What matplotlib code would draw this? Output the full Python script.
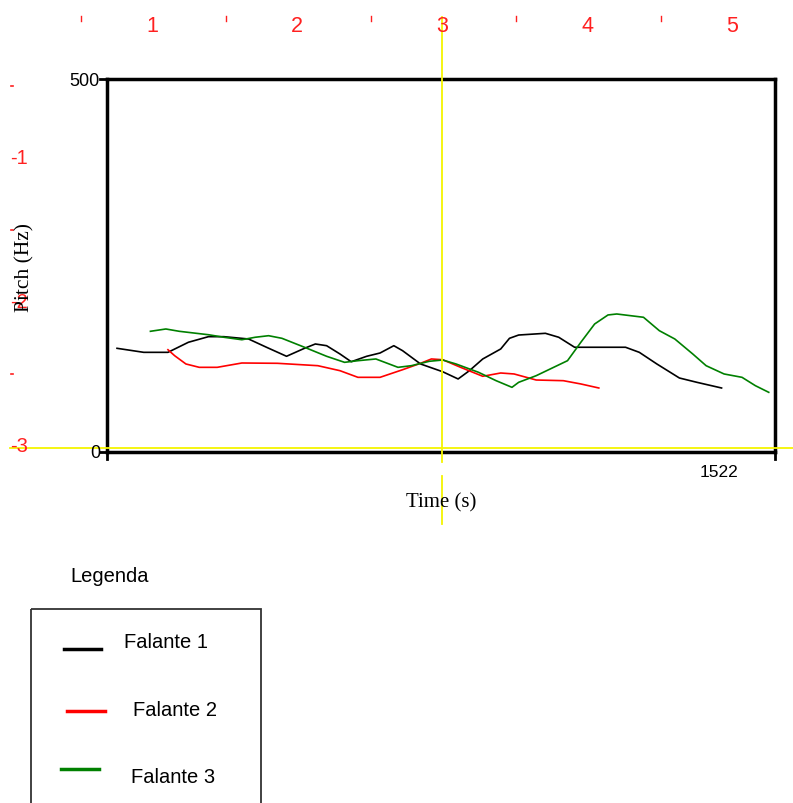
import matplotlib
matplotlib.use("Agg")
import matplotlib.pyplot as plt
from matplotlib.patches import Rectangle

# ---------------- data (time in s, pitch in Hz) ----------------
t1 = [0.024, 0.088, 0.146, 0.195, 0.243, 0.280, 0.339, 0.382, 0.430, 0.473, 0.499, 0.526,
      0.558, 0.585, 0.622, 0.654, 0.687, 0.708, 0.751, 0.804, 0.841, 0.868, 0.900, 0.943,
      0.964, 0.986, 1.050, 1.082, 1.120, 1.242, 1.275, 1.317, 1.371, 1.413, 1.472]
f1 = [139.0, 133.6, 133.6, 147.1, 154.6, 154.6, 151.5, 140.4, 128.3, 139.0, 144.8, 142.5,
      131.4, 121.0, 128.3, 132.7, 142.5, 135.8, 118.0, 107.6, 97.9, 109.0, 124.7, 138.1,
      152.4, 156.8, 159.1, 153.8, 140.4, 140.4, 133.6, 118.0, 99.2, 93.4, 85.8]

t2 = [0.146, 0.162, 0.189, 0.221, 0.264, 0.323, 0.408, 0.505, 0.558, 0.601, 0.654, 0.708,
      0.751, 0.777, 0.804, 0.847, 0.900, 0.943, 0.975, 1.028, 1.093, 1.135, 1.178]
f2 = [137.1, 129.1, 118.0, 113.5, 113.5, 119.3, 118.9, 115.7, 109.0, 100.1, 100.1, 110.3,
      118.9, 124.7, 123.7, 113.5, 101.5, 105.9, 104.6, 96.5, 95.6, 91.2, 85.8]

t3 = [0.104, 0.141, 0.173, 0.243, 0.280, 0.323, 0.355, 0.387, 0.419, 0.473, 0.526, 0.569,
      0.601, 0.644, 0.697, 0.729, 0.772, 0.804, 0.836, 0.890, 0.932, 0.970, 0.986, 1.028,
      1.103, 1.135, 1.168, 1.200, 1.221, 1.285, 1.323, 1.360, 1.403, 1.435, 1.478, 1.521,
      1.553, 1.585]
f3 = [161.8, 164.9, 161.8, 157.2, 153.8, 150.5, 153.8, 155.9, 152.4, 140.4, 128.3, 120.2,
      122.4, 124.7, 113.5, 115.7, 121.6, 123.3, 118.0, 106.8, 95.6, 86.7, 93.4, 102.3,
      122.4, 147.1, 171.6, 183.7, 185.0, 180.6, 162.6, 151.5, 131.4, 115.7, 104.6, 100.1,
      88.9, 80.0]

series_names = ["Falante 1", "Falante 2", "Falante 3"]
series_colors = ["#000000", "#ff0000", "#008000"]
y_tick_labels = ["0", "500"]
end_label = "1522"
top_ruler = ["1", "2", "3", "4", "5"]
left_ruler = ["-1", "-2", "-3"]

W, H = 793, 804
fig = plt.figure(figsize=(W / 100, H / 100), dpi=100)
fig.patch.set_facecolor("white")

def fx(px):
    return px / W

def fy(py):
    return 1 - py / H

# main axes
L, R, T, B = 107, 775, 80, 453
ax = fig.add_axes([fx(L), fy(B), (R - L) / W, (B - T) / H])
ax.set_xlim(0, 1.6)
ax.set_ylim(0, 500)
for t, f, c in zip([t1, t2, t3], [f1, f2, f3], series_colors):
    ax.plot(t, f, color=c, lw=1.2, solid_joinstyle="round")
for s in ax.spines.values():
    s.set_linewidth(2.5)
    s.set_color("black")
ax.set_xticks([])
ax.set_yticks([])

# overlay in pixel coordinates
ov = fig.add_axes([0, 0, 1, 1], facecolor="none")
ov.set_xlim(0, W)
ov.set_ylim(H, 0)
ov.axis("off")

sans = "Liberation Sans"
serif = "Liberation Serif"
narrow = ["Liberation Sans Narrow", "Liberation Sans"]

# axis ticks outside
ov.plot([100, 107], [80, 80], color="black", lw=2)
ov.plot([100, 107], [453, 453], color="black", lw=2)
ov.plot([107, 107], [453, 460], color="black", lw=2)
ov.plot([775, 775], [453, 460], color="black", lw=2)

ov.text(100, 81, y_tick_labels[1], ha="right", va="center", fontsize=13, family=sans)
ov.text(100, 454, y_tick_labels[0], ha="right", va="center", fontsize=13, family=sans)
ov.text(719, 473, end_label, ha="center", va="center", fontsize=12.5, family=sans)
ov.text(441, 503, "Time (s)", ha="center", va="center", fontsize=15, family=serif)

# red rulers
red = "#ff2020"
for i, lab in enumerate(top_ruler):
    x = 152 + 145 * i
    ov.text(x, 26, lab, ha="center", va="center", fontsize=15.5, color=red, family=narrow)
    ov.plot([x - 71, x - 71], [17, 22], color=red, lw=1)
for i, lab in enumerate(left_ruler):
    y = 159 + 144 * i
    ov.text(10, y, lab, ha="left", va="center", fontsize=14.5, color=red, family=narrow)
    ov.plot([11, 13], [y - 72, y - 72], color=red, lw=1.2)

ov.text(25, 268, "Pitch (Hz)", ha="center", va="center", rotation=90, fontsize=15.5, family=serif)

# yellow cursor lines
yel = "#f5f500"
ov.plot([10, W], [449, 449], color=yel, lw=1.3)
ov.plot([442, 442], [18, 463], color=yel, lw=1.3)
ov.plot([442, 442], [477, 525], color=yel, lw=1.3)

# legend
ov.text(70, 577, "Legenda", ha="left", va="center", fontsize=14.5, family=sans)
ov.add_patch(Rectangle((31, 610), 230, 220, fill=False, edgecolor="#333333", lw=1.3))
leg_lines = [(64, 101, 650), (67, 105, 712), (61, 99, 770)]
leg_text = [(124, 643), (133, 711), (131, 778)]
for (x0, x1, y), (tx, ty), name, c in zip(leg_lines, leg_text, series_names, series_colors):
    ov.plot([x0, x1], [y, y], color=c, lw=2.5)
    ov.text(tx, ty, name, ha="left", va="center", fontsize=14.5, family=sans)

fig.savefig("out.png", dpi=100)
